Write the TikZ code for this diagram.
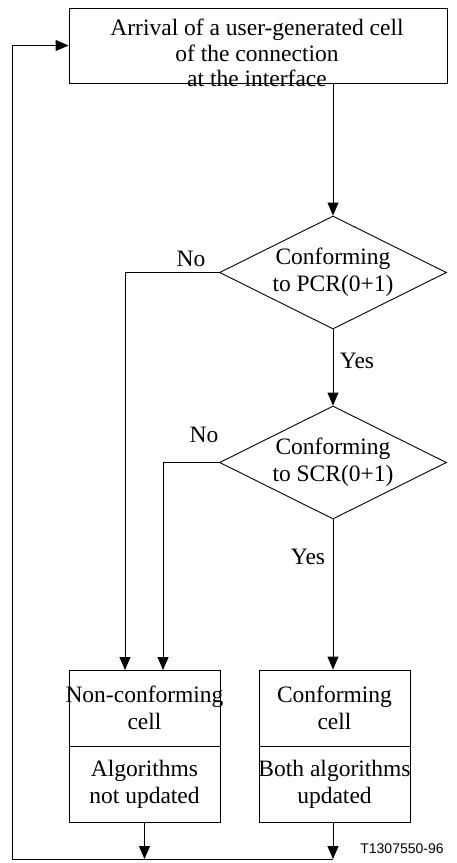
\documentclass[tikz,border=0pt]{standalone}
\usepackage{fontspec}
\setmainfont{Liberation Serif}
\setsansfont{Liberation Sans}
\usetikzlibrary{shapes.geometric,arrows.meta}

\begin{document}
\begin{tikzpicture}[x=1pt,y=-1pt,line width=0.9pt,
  every node/.style={font=\fontsize{23.5}{27}\selectfont,align=center},
  box/.style={draw,rectangle,inner ysep=0pt,inner xsep=-4pt,minimum width=151pt,minimum height=76pt},
  test/.style={draw,diamond,aspect=2,inner sep=0pt,minimum width=227pt,minimum height=113pt},
  flow/.style={-{Triangle[length=13pt,width=11pt]}}]
\useasboundingbox (0,0) rectangle (456,863);

\node[draw,minimum width=378pt,minimum height=75pt] (arrival) at (258,45.5) {};
\node[font=\fontsize{23.5}{25.5}\selectfont] (arrivaltxt) at (257,53) {Arrival of a user-generated cell\\of the connection\\at the interface};

\node[test] (pcr) at (333,272.5) {Conforming\\to PCR(0+1)};
\node[test] (scr) at (333,462.5) {Conforming\\to SCR(0+1)};

\node[box] (noncell) at (144.5,708) {Non-conforming\\cell};
\node[box] (noalg) at (144.5,784) {Algorithms\\not updated};
\node[box] (conf) at (334.5,708) {Conforming\\cell};
\node[box] (both) at (334.5,784) {Both algorithms\\updated};

\node (no1) at (191,259) {No};
\node (yes1) at (357,361) {Yes};
\node (no2) at (204,435) {No};
\node (yes2) at (308,557) {Yes};
\node[font=\sffamily\fontsize{14}{16}\selectfont] (code) at (402,849) {T1307550-96};

\coordinate (in1) at (125,670);
\coordinate (in2) at (163,670);
\coordinate (loopL) at (12,859);
\coordinate (outB) at (333,859);

\draw[flow] (pcr.north |- arrival.south) -- (pcr.north);
\draw[flow] (pcr.south) -- (scr.north);
\draw[flow] (pcr.west) -| (in1);
\draw[flow] (scr.west) -| (in2);
\draw[flow] (scr.south) -- (scr.south |- conf.north);
\draw[flow] (noalg.south) -- (noalg.south |- loopL);
\draw[flow] (both.south -| outB) -- (outB);
\draw[flow] (outB) -- (loopL) |- (arrival.west);
\end{tikzpicture}
\end{document}
